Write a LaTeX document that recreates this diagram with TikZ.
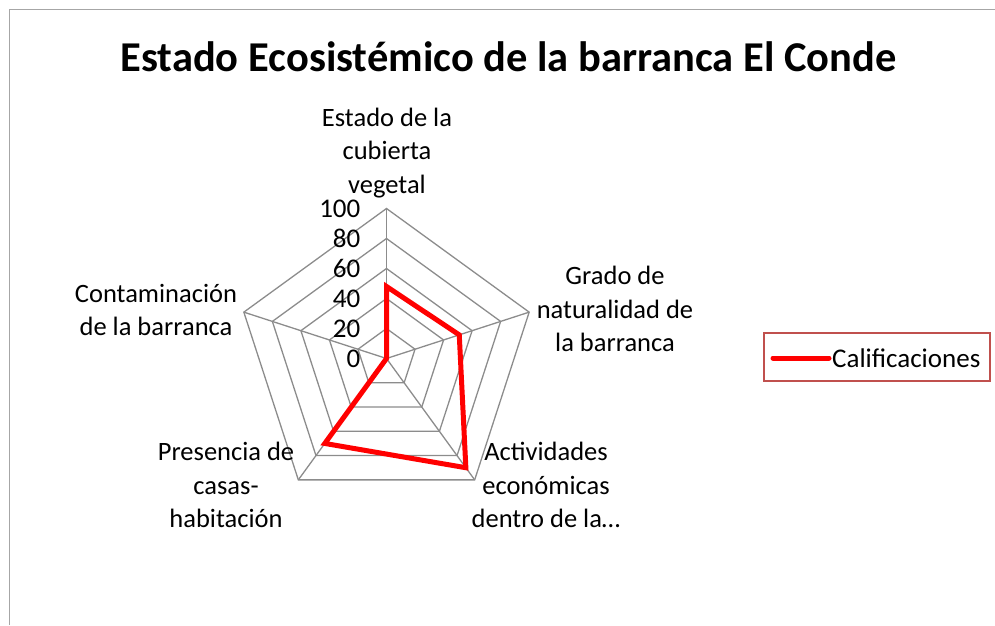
\documentclass[tikz,border=0pt]{standalone}
\usepackage{fontspec}
\setmainfont{Carlito}
\usetikzlibrary{calc}
\definecolor{gridgray}{HTML}{8C8C8C}
\definecolor{framegray}{HTML}{A6A6A6}
\definecolor{legborder}{HTML}{C0504D}
\begin{document}
\begin{tikzpicture}[x=1pt,y=1pt,
  gridline/.style={draw=gridgray,line width=1.3pt},
  axislabel/.style={align=center,font=\fontsize{26.5}{33.5}\selectfont,inner sep=0pt},
  ticklabel/.style={anchor=east,font=\fontsize{27}{30}\selectfont,inner sep=0pt},
  series/.style={draw=red,line width=5pt,line join=miter}]
\useasboundingbox (0,0) rectangle (995,625);
% frame
\draw[framegray,line width=1.2pt] (9.5,0) -- (9.5,615.5) -- (995,615.5);
% title
\node[font=\fontsize{42.5}{48}\selectfont\bfseries,inner sep=0pt] (title) at (508.5,568) {Estado Ecosistémico de la barranca El Conde};
% center
\coordinate (C) at (386.5,266.5);
% grid polygons
\foreach \r in {30,60,90,120,150}{
  \draw[gridline] ($(C)+(90:\r)$) -- ($(C)+(18:\r)$) -- ($(C)+(-54:\r)$) -- ($(C)+(-126:\r)$) -- ($(C)+(162:\r)$) -- cycle;
}
\foreach \a/\n in {90/v1,18/v2,-54/v3,-126/v4,162/v5}{
  \coordinate (\n) at ($(C)+(\a:150)$);
  \draw[gridline] (C) -- (\n);
}
% tick labels
\foreach \v/\r in {0/0,20/30,40/60,60/90,80/120,100/150}{
  \node[ticklabel] (t\v) at ($(C)+(-26,\r)$) {\v};
}
% axis labels
\node[axislabel] (a1) at (387,472) {Estado de la\\cubierta\\vegetal};
\node[axislabel] (a2) at (615,316) {Grado de\\naturalidad de\\la barranca};
\node[axislabel] (a3) at (546,140) {Actividades\\económicas\\dentro de la…};
\node[axislabel] (a4) at (226,140) {Presencia de\\casas-\\habitación};
\node[axislabel] (a5) at (156,315) {Contaminación\\de la barranca};
% data
\coordinate (d1) at ($(C)+(90:72)$);
\coordinate (d2) at ($(C)+(18:76.5)$);
\coordinate (d3) at ($(C)+(-54:135)$);
\coordinate (d4) at ($(C)+(-126:105)$);
\coordinate (d5) at ($(C)+(162:0)$);
\draw[series] (d1) -- (d2) -- (d3) -- (d4) -- (d5) -- cycle;
% legend
\node[draw=legborder,line width=1.2pt,minimum width=226pt,minimum height=48pt,inner sep=0pt] (leg) at (877,268) {};
\coordinate (l1) at (773,267);
\coordinate (l2) at (829,267);
\draw[draw=red,line width=5pt,line cap=round] (l1) -- (l2);
\node[anchor=west,font=\fontsize{27}{30}\selectfont,inner sep=0pt] (legtext) at (832,267) {Calificaciones};
\end{tikzpicture}
\end{document}
